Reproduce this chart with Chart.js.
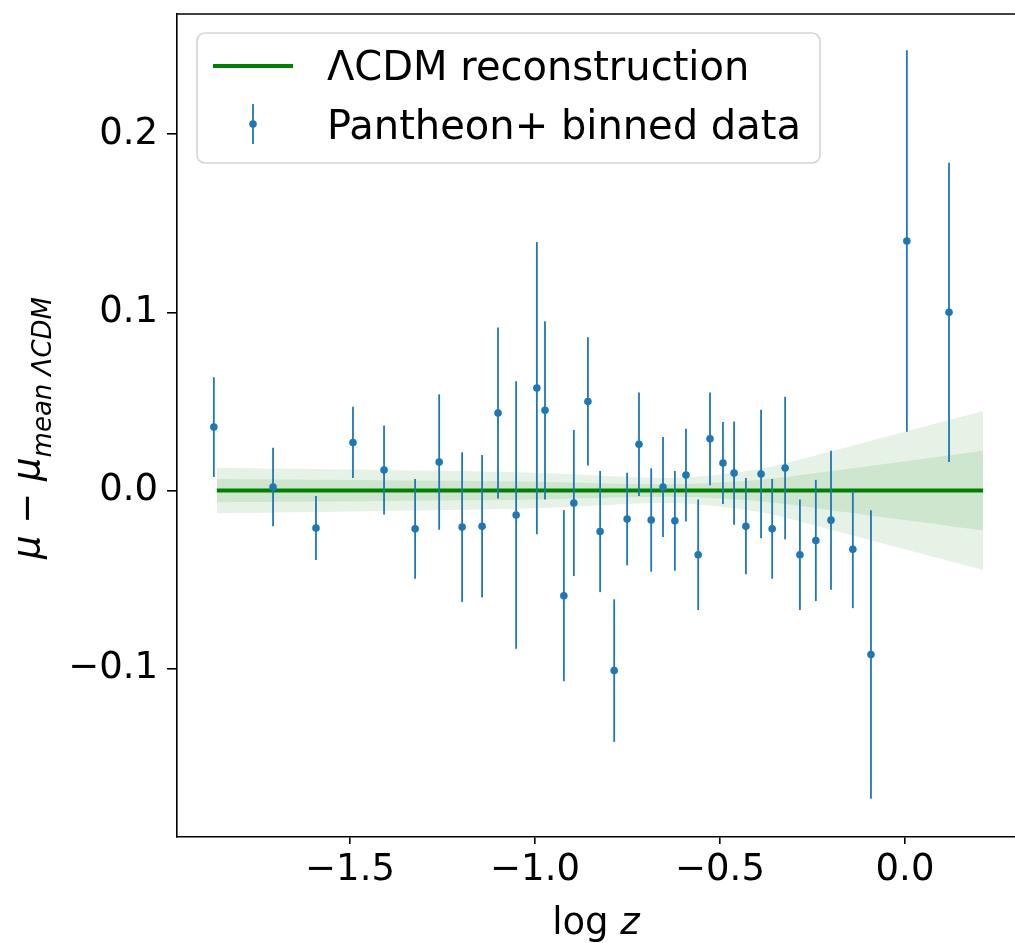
<!DOCTYPE html>
<html>
<head>
<meta charset="utf-8">
<script src="https://cdn.jsdelivr.net/npm/chart.js@4.4.0/dist/chart.umd.min.js"></script>
<style>
  html, body { margin: 0; background: #fff; overflow: hidden; }
  canvas { display: block; }
</style>
</head>
<body>
<canvas id="chart" width="1015" height="943"></canvas>
<script>
// Pantheon+ binned points (log z, residual, 1-sigma error)
const logZ = [-1.868, -1.708, -1.592, -1.492, -1.408, -1.324, -1.259, -1.197, -1.143, -1.100,
  -1.051, -0.995, -0.973, -0.922, -0.895, -0.857, -0.824, -0.786, -0.751, -0.719,
  -0.686, -0.654, -0.622, -0.592, -0.559, -0.527, -0.492, -0.462, -0.430, -0.389,
  -0.359, -0.324, -0.284, -0.241, -0.200, -0.141, -0.092, 0.005, 0.119];
const dMu = [0.0356, 0.002, -0.021, 0.027, 0.0115, -0.0215, 0.016, -0.0205, -0.020, 0.0435,
  -0.0137, 0.0575, 0.045, -0.059, -0.007, 0.050, -0.023, -0.101, -0.016, 0.026,
  -0.0165, 0.002, -0.017, 0.0087, -0.036, 0.029, 0.0155, 0.0098, -0.020, 0.0093,
  -0.0215, 0.0126, -0.036, -0.028, -0.0166, -0.033, -0.092, 0.140, 0.100];
const dMuErr = [0.028, 0.022, 0.018, 0.020, 0.025, 0.028, 0.038, 0.042, 0.040, 0.048,
  0.075, 0.082, 0.050, 0.048, 0.041, 0.036, 0.034, 0.040, 0.026, 0.029,
  0.029, 0.028, 0.028, 0.026, 0.031, 0.026, 0.023, 0.029, 0.027, 0.036,
  0.028, 0.040, 0.031, 0.034, 0.039, 0.033, 0.081, 0.107, 0.084];

// LCDM reconstruction: mean and half widths of the two bands
const bandX = [-1.86, -1.4, -1.0, -0.65, -0.5, -0.365, -0.2, 0.0, 0.211];
const bandMean = [0, 0, 0, 0, 0, 0, 0, 0, 0];
const band1 = [0.0065, 0.0058, 0.0050, 0.0035, 0.0045, 0.0066, 0.0110, 0.0165, 0.0224];
const band2 = [0.0128, 0.0115, 0.0100, 0.0070, 0.0090, 0.0132, 0.0220, 0.0330, 0.0446];

const xTicks = [-1.5, -1.0, -0.5, 0.0];
const yTicks = [-0.1, 0.0, 0.1, 0.2];

const FONT = 'DejaVu Sans';
const blue = '#1f77b4';

function fmt(v) {
  return v.toFixed(1).replace('-', '\u2212');
}

function bandLine(sign, w) {
  return bandX.map((x, i) => ({ x: x, y: bandMean[i] + sign * w[i] }));
}

// error bars, drawn just before the points
const errorBars = {
  id: 'errorBars',
  beforeDatasetDraw(chart, args) {
    if (args.index !== 0) return;
    const { ctx, scales: { x, y } } = chart;
    ctx.save();
    ctx.strokeStyle = blue;
    ctx.lineWidth = 1.8;
    logZ.forEach((lz, i) => {
      const px = x.getPixelForValue(lz);
      ctx.beginPath();
      ctx.moveTo(px, y.getPixelForValue(dMu[i] + dMuErr[i]));
      ctx.lineTo(px, y.getPixelForValue(dMu[i] - dMuErr[i]));
      ctx.stroke();
    });
    ctx.restore();
  }
};

// titles, legend, top spine
const decor = {
  id: 'decor',
  afterDraw(chart) {
    const { ctx, chartArea: a } = chart;
    ctx.save();

    // top spine
    ctx.strokeStyle = '#000';
    ctx.lineWidth = 1.6;
    ctx.beginPath();
    ctx.moveTo(a.left, a.top);
    ctx.lineTo(a.right, a.top);
    ctx.stroke();

    ctx.fillStyle = '#000';
    ctx.textBaseline = 'alphabetic';

    // x title: log z
    const fN = '37px "' + FONT + '"';
    const fI = 'italic 37px "' + FONT + '"';
    ctx.font = fN;
    const w1 = ctx.measureText('log ').width;
    ctx.font = fI;
    const w2 = ctx.measureText('z').width;
    let sx = 596 - (w1 + w2) / 2;
    ctx.font = fN;
    ctx.fillText('log ', sx, 934);
    ctx.font = fI;
    ctx.fillText('z', sx + w1, 934);

    // y title: mu - mu_{mean LCDM}
    const parts = [
      { t: '\u03bc', f: fI, dy: 0 },
      { t: ' \u2212 ', f: fN, dy: 0 },
      { t: '\u03bc', f: fI, dy: 0 },
      { t: 'mean \u039bCDM', f: 'italic 26px "' + FONT + '"', dy: 12 }
    ];
    let total = 0;
    parts.forEach(p => { ctx.font = p.f; p.w = ctx.measureText(p.t).width; total += p.w; });
    ctx.translate(39, 428);
    ctx.rotate(-Math.PI / 2);
    let cx = -total / 2;
    parts.forEach(p => { ctx.font = p.f; ctx.fillText(p.t, cx, p.dy); cx += p.w; });
    ctx.setTransform(1, 0, 0, 1, 0, 0);

    // legend
    ctx.beginPath();
    ctx.roundRect(197, 33, 623, 130, 8);
    ctx.fillStyle = 'rgba(255,255,255,0.8)';
    ctx.fill();
    ctx.strokeStyle = '#d4d4d4';
    ctx.lineWidth = 1.6;
    ctx.stroke();

    ctx.strokeStyle = 'green';
    ctx.lineWidth = 4;
    ctx.beginPath();
    ctx.moveTo(213, 66);
    ctx.lineTo(293, 66);
    ctx.stroke();

    ctx.strokeStyle = blue;
    ctx.lineWidth = 1.8;
    ctx.beginPath();
    ctx.moveTo(253, 104);
    ctx.lineTo(253, 144);
    ctx.stroke();
    ctx.fillStyle = blue;
    ctx.beginPath();
    ctx.arc(253, 124, 3.8, 0, Math.PI * 2);
    ctx.fill();

    ctx.fillStyle = '#000';
    ctx.font = '40px "' + FONT + '"';
    ctx.fillText('\u039bCDM reconstruction', 327, 80);
    ctx.fillText('Pantheon+ binned data', 327, 139);
    ctx.restore();
  }
};

const bandStyle = {
  type: 'line',
  borderWidth: 0,
  pointRadius: 0,
  backgroundColor: 'rgba(0,128,0,0.1)',
  tension: 0.3
};

new Chart(document.getElementById('chart'), {
  type: 'scatter',
  data: {
    datasets: [
      {
        label: 'Pantheon+ binned data',
        data: logZ.map((x, i) => ({ x: x, y: dMu[i] })),
        pointRadius: 3.8,
        pointBackgroundColor: blue,
        pointBorderWidth: 0
      },
      {
        type: 'line',
        label: '\u039bCDM reconstruction',
        data: bandX.map((x, i) => ({ x: x, y: bandMean[i] })),
        borderColor: 'green',
        borderWidth: 4,
        pointRadius: 0
      },
      Object.assign({ data: bandLine(1, band1), fill: 3 }, bandStyle),
      Object.assign({ data: bandLine(-1, band1), fill: false }, bandStyle),
      Object.assign({ data: bandLine(1, band2), fill: 5 }, bandStyle),
      Object.assign({ data: bandLine(-1, band2), fill: false }, bandStyle)
    ]
  },
  options: {
    responsive: false,
    animation: false,
    devicePixelRatio: 1,
    layout: { autoPadding: false, padding: { top: 14, left: 0, right: 0, bottom: 0 } },
    plugins: {
      legend: { display: false },
      tooltip: { enabled: false }
    },
    scales: {
      x: {
        type: 'linear',
        min: -1.9676,
        max: 0.2973,
        afterBuildTicks: axis => { axis.ticks = xTicks.map(v => ({ value: v })); },
        afterFit: axis => {
          axis.height = 106;
          axis.paddingLeft = 0; axis.paddingRight = 0;
          axis.paddingTop = 0; axis.paddingBottom = 0;
        },
        grid: { drawOnChartArea: false, color: '#000', lineWidth: 1.6, tickLength: 7 },
        border: { color: '#000', width: 1.6 },
        ticks: {
          font: { family: FONT, size: 37 },
          color: '#000',
          padding: 4,
          maxRotation: 0,
          autoSkip: false,
          callback: v => fmt(v)
        }
      },
      y: {
        min: -0.1944,
        max: 0.2674,
        afterBuildTicks: axis => { axis.ticks = yTicks.map(v => ({ value: v })); },
        afterFit: axis => {
          axis.width = 177;
          axis.paddingLeft = 0; axis.paddingRight = 0;
          axis.paddingTop = 0; axis.paddingBottom = 0;
        },
        grid: { drawOnChartArea: false, color: '#000', lineWidth: 1.6, tickLength: 10 },
        border: { color: '#000', width: 1.6 },
        ticks: {
          font: { family: FONT, size: 37 },
          color: '#000',
          padding: 9,
          autoSkip: false,
          callback: v => fmt(v)
        }
      }
    }
  },
  plugins: [errorBars, decor]
});
</script>
</body>
</html>
